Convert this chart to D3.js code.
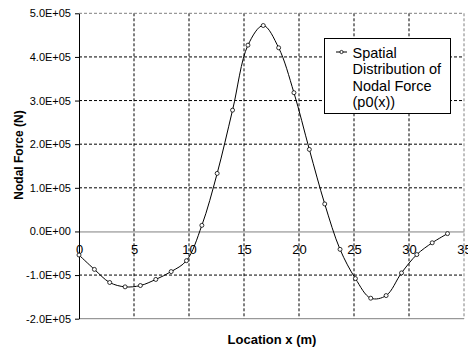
<!DOCTYPE html>
<html>
<head>
<meta charset="utf-8">
<script src="https://cdn.jsdelivr.net/npm/d3@7"></script>
<style>
  body { margin: 0; background: #fff; }
  svg { display: block; font-family: "Liberation Sans", Arial, sans-serif; }
</style>
</head>
<body>
<div id="chart"></div>
<script>
// data
var locX = [0, 1.4, 2.79, 4.19, 5.58, 6.98, 8.38, 9.77, 11.17, 12.56, 13.96, 15.36, 16.75,
            18.15, 19.54, 20.94, 22.34, 23.73, 25.13, 26.52, 27.92, 29.32, 30.71, 32.11, 33.5];
var nodalForce = [-54000, -87000, -117000, -127000, -124000, -110000, -92000, -67000, 14000,
                  133000, 278000, 427000, 472000, 421000, 318000, 188000, 63000, -41000,
                  -108000, -153000, -147000, -95000, -53000, -26000, -5000];
var xTicks = [0, 5, 10, 15, 20, 25, 30, 35];
var yTicks = [-200000, -100000, 0, 100000, 200000, 300000, 400000, 500000];
var legendLines = ["Spatial", "Distribution of", "Nodal Force", "(p0(x))"];

var W = 468, H = 351;
var margin = {top: 13.3, right: 4, bottom: 32.3, left: 79},
    width = W - margin.left - margin.right,
    height = H - margin.top - margin.bottom;

var svg = d3.select("#chart").append("svg")
    .attr("width", W)
    .attr("height", H);

var g = svg.append("g")
    .attr("transform", "translate(" + margin.left + "," + margin.top + ")");

var x = d3.scaleLinear().domain([0, 35]).range([0, width]);
var y = d3.scaleLinear().domain([-200000, 500000]).range([height, 0]);

// 5.0E+05 style labels
var sci = function(v) {
  if (v === 0) return "0.0E+00";
  var e = Math.floor(Math.log10(Math.abs(v)));
  var m = v / Math.pow(10, e);
  return m.toFixed(1) + "E" + (e < 0 ? "-" : "+") + (Math.abs(e) < 10 ? "0" : "") + Math.abs(e);
};

// gridlines
g.selectAll(".vgrid")
    .data(xTicks.filter(function(d) { return d > 0 && d < 35; }))
  .enter().append("line")
    .attr("x1", function(d) { return x(d); })
    .attr("x2", function(d) { return x(d); })
    .attr("y1", 0).attr("y2", height)
    .attr("stroke", "#000").attr("stroke-width", 1)
    .attr("stroke-dasharray", "3,2");

g.selectAll(".hgrid")
    .data(yTicks.filter(function(d) { return d !== 0 && d > -200000 && d < 500000; }))
  .enter().append("line")
    .attr("x1", 0).attr("x2", width)
    .attr("y1", function(d) { return y(d); })
    .attr("y2", function(d) { return y(d); })
    .attr("stroke", "#000").attr("stroke-width", 1)
    .attr("stroke-dasharray", "3,2");

// plot area border (top/right dashed grey, bottom solid grey)
g.append("line").attr("x1", 0).attr("x2", width).attr("y1", 0).attr("y2", 0)
    .attr("stroke", "#808080").attr("stroke-dasharray", "3,2");
g.append("line").attr("x1", width).attr("x2", width).attr("y1", 0).attr("y2", height)
    .attr("stroke", "#808080").attr("stroke-dasharray", "3,2");
g.append("line").attr("x1", 0).attr("x2", width).attr("y1", height).attr("y2", height)
    .attr("stroke", "#808080");

// x axis along zero
var xAxis = g.append("g")
    .attr("transform", "translate(0," + y(0) + ")")
    .call(d3.axisBottom(x).tickValues(xTicks).tickSize(0).tickPadding(13).tickFormat(d3.format("d")));
xAxis.select(".domain").attr("stroke", "#808080");
xAxis.selectAll("text")
    .style("font-size", "13px")
    .attr("fill", "#000");

// y axis
var yAxis = g.append("g")
    .call(d3.axisLeft(y).tickValues(yTicks).tickSizeInner(4).tickSizeOuter(0).tickPadding(4).tickFormat(sci));
yAxis.select(".domain").attr("stroke", "#000");
yAxis.selectAll("text")
    .style("font-size", "11px")
    .attr("fill", "#000");

// series
var line = d3.line()
    .x(function(d, i) { return x(locX[i]); })
    .y(function(d) { return y(d); })
    .curve(d3.curveCatmullRom);

g.append("path")
    .datum(nodalForce)
    .attr("fill", "none")
    .attr("stroke", "#000")
    .attr("stroke-width", 1)
    .attr("d", line);

g.selectAll(".dot")
    .data(nodalForce)
  .enter().append("circle")
    .attr("cx", function(d, i) { return x(locX[i]); })
    .attr("cy", function(d) { return y(d); })
    .attr("r", 2)
    .attr("fill", "#fff")
    .attr("stroke", "#000")
    .attr("stroke-width", 0.8);

// axis titles
svg.append("text")
    .attr("x", 272)
    .attr("y", 344)
    .attr("text-anchor", "middle")
    .style("font-size", "13px")
    .style("font-weight", "bold")
    .text("Location x (m)");

svg.append("text")
    .attr("transform", "translate(23,155) rotate(-90)")
    .attr("text-anchor", "middle")
    .style("font-size", "12px")
    .style("font-weight", "bold")
    .text("Nodal Force (N)");

// legend
var leg = svg.append("g");
leg.append("rect")
    .attr("x", 324.5).attr("y", 38.5)
    .attr("width", 126).attr("height", 75)
    .attr("fill", "#fff")
    .attr("stroke", "#000");
leg.append("line")
    .attr("x1", 336).attr("x2", 347).attr("y1", 52).attr("y2", 52)
    .attr("stroke", "#000");
leg.append("circle")
    .attr("cx", 341.5).attr("cy", 52).attr("r", 1.6)
    .attr("fill", "#fff").attr("stroke", "#000").attr("stroke-width", 0.8);
leg.selectAll(".ltext")
    .data(legendLines)
  .enter().append("text")
    .attr("x", 352.5)
    .attr("y", function(d, i) { return 57.5 + i * 16.5; })
    .style("font-size", "14.5px")
    .text(function(d) { return d; });
</script>
</body>
</html>
